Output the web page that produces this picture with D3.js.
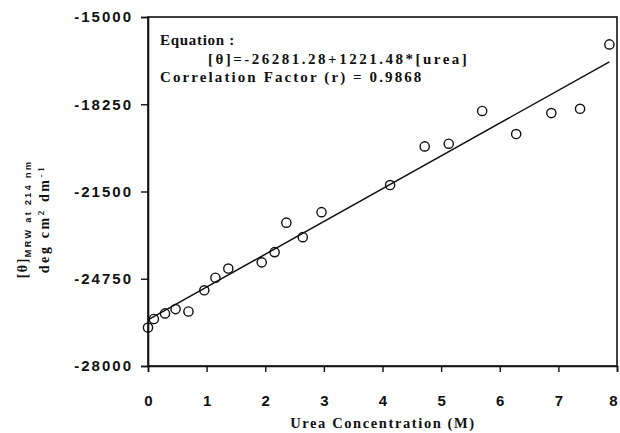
<!DOCTYPE html>
<html>
<head>
<meta charset="utf-8">
<script src="https://cdn.jsdelivr.net/npm/d3@7"></script>
<style>
  body { margin: 0; background: #fff; }
  svg { display: block; }
  .tick text { font-family: "Liberation Sans", Arial, sans-serif; font-weight: bold; font-size: 15px; letter-spacing: 2px; fill: #111; }
  .serif { font-family: "Liberation Serif", "Times New Roman", serif; font-weight: bold; fill: #111; }
</style>
</head>
<body>
<div id="chart"></div>
<script>
var urea  = [0, 0.1, 0.29, 0.47, 0.69, 0.96, 1.15, 1.37, 1.94, 2.16, 2.36, 2.64, 2.96, 4.13, 4.72, 5.13, 5.70, 6.28, 6.88, 7.37, 7.87]
var theta = [-26570, -26250, -26040, -25880, -25970, -25180, -24710, -24370, -24140, -23760, -22660, -23200, -22270, -21260, -19820, -19720, -18500, -19360, -18580, -18420, -16020]

var intercept = -26281.28, slope = 1221.48
var xTicks = [0, 1, 2, 3, 4, 5, 6, 7, 8]
var yTicks = [-28000, -24750, -21500, -18250, -15000]

var width = 620, height = 433

var svg = d3.select('#chart').append('svg').attr('width', width).attr('height', height)

var x = d3.scaleLinear().domain([0, 8]).range([148, 617])
var y = d3.scaleLinear().domain([-28000, -15000]).range([366, 17])

// frame
svg.append('rect')
  .attr('x', x(0)).attr('y', y(-15000))
  .attr('width', x(8) - x(0)).attr('height', y(-28000) - y(-15000))
  .attr('fill', 'none').attr('stroke', '#111').attr('stroke-width', 1.6)

var xAxis = svg.append('g')
  .attr('transform', 'translate(0,' + y(-28000) + ')')
  .call(d3.axisBottom(x).tickValues(xTicks).tickSize(6).tickPadding(23).tickFormat(d3.format('d')))
var yAxis = svg.append('g')
  .attr('transform', 'translate(' + x(0) + ',0)')
  .call(d3.axisLeft(y).tickValues(yTicks).tickSize(7).tickPadding(8).tickFormat(d => d < 0 ? '-' + Math.abs(d) : d))

svg.selectAll('.domain').attr('stroke', '#111').attr('stroke-width', 1.6)
svg.selectAll('.tick line').attr('stroke', '#111').attr('stroke-width', 1.4)
xAxis.selectAll('.tick text').attr('dx', d => d == 8 ? -3 : 1)

// regression line
var xmax = d3.max(urea)
svg.append('line')
  .attr('x1', x(0)).attr('y1', y(intercept))
  .attr('x2', x(xmax)).attr('y2', y(intercept + slope * xmax))
  .attr('stroke', '#111').attr('stroke-width', 1.5)

// points
svg.append('g').selectAll('circle').data(urea).join('circle')
  .attr('cx', d => x(d))
  .attr('cy', (d, i) => y(theta[i]))
  .attr('r', 4.6)
  .attr('fill', 'none').attr('stroke', '#111').attr('stroke-width', 1.4)

// annotation
svg.append('text').attr('class', 'serif').attr('x', 160).attr('y', 45)
  .style('font-size', '15px').style('letter-spacing', '0.7px').text('Equation :')
svg.append('text').attr('class', 'serif').attr('x', 208).attr('y', 64)
  .style('font-size', '15px').style('letter-spacing', '2.5px')
  .text('[θ]=-' + Math.abs(intercept).toFixed(2) + '+' + slope.toFixed(2) + '*[urea]')
svg.append('text').attr('class', 'serif').attr('x', 160).attr('y', 82)
  .style('font-size', '15px').style('letter-spacing', '2.1px')
  .text('Correlation Factor (r) = 0.9868')

// axis titles
svg.append('text').attr('class', 'serif').attr('x', 383).attr('y', 428)
  .attr('text-anchor', 'middle').style('font-size', '14.5px').style('letter-spacing', '1.6px')
  .text('Urea Concentration (M)')

var yl = svg.append('g').attr('transform', 'translate(27,219) rotate(-90)')
var l1 = yl.append('text').attr('class', 'serif').attr('text-anchor', 'middle').style('font-size', '14px').style('letter-spacing', '1.5px')
l1.append('tspan').text('[θ]')
l1.append('tspan').attr('dy', 4).style('font-size', '9px').style('font-family', '"Liberation Sans", Arial, sans-serif').style('letter-spacing', '2.4px').text('MRW at 214 nm')
var l2 = yl.append('text').attr('class', 'serif').attr('y', 22).attr('text-anchor', 'middle').style('font-size', '14px').style('letter-spacing', '2.6px')
l2.append('tspan').text('deg cm')
l2.append('tspan').attr('dy', -5).style('font-size', '9px').text('2')
l2.append('tspan').attr('dy', 5).text(' dm')
l2.append('tspan').attr('dy', -5).style('font-size', '9px').text('-1')
</script>
</body>
</html>
